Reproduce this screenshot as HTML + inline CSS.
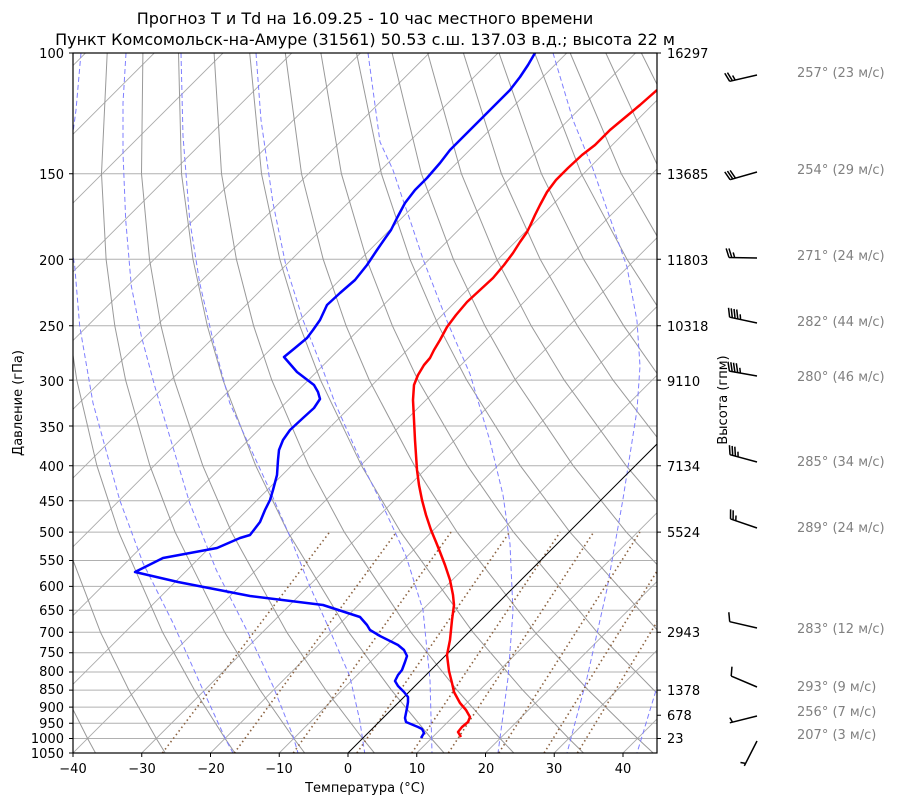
<!DOCTYPE html>
<html><head><meta charset="utf-8"><style>
body{margin:0;background:#fff;}
svg text{font-family:"DejaVu Sans","Liberation Sans",sans-serif;}
</style></head><body>
<svg width="900" height="806" xmlns="http://www.w3.org/2000/svg">
<defs><clipPath id="c"><rect x="73" y="53" width="584" height="700"/></clipPath></defs>
<rect width="900" height="806" fill="#fff"/>
<g clip-path="url(#c)" fill="none">
<g stroke="#b0b0b0" stroke-width="1">
<line x1="73" y1="173.7" x2="657" y2="173.7"/><line x1="73" y1="259.3" x2="657" y2="259.3"/>
<line x1="73" y1="325.8" x2="657" y2="325.8"/><line x1="73" y1="380.1" x2="657" y2="380.1"/>
<line x1="73" y1="426" x2="657" y2="426"/><line x1="73" y1="465.7" x2="657" y2="465.7"/>
<line x1="73" y1="500.8" x2="657" y2="500.8"/><line x1="73" y1="532.1" x2="657" y2="532.1"/>
<line x1="73" y1="560.5" x2="657" y2="560.5"/><line x1="73" y1="586.4" x2="657" y2="586.4"/>
<line x1="73" y1="610.2" x2="657" y2="610.2"/><line x1="73" y1="632.3" x2="657" y2="632.3"/>
<line x1="73" y1="652.8" x2="657" y2="652.8"/><line x1="73" y1="672" x2="657" y2="672"/>
<line x1="73" y1="690.1" x2="657" y2="690.1"/><line x1="73" y1="707.1" x2="657" y2="707.1"/>
<line x1="73" y1="723.2" x2="657" y2="723.2"/><line x1="73" y1="738.5" x2="657" y2="738.5"/>
</g>
<g stroke="#aaa" stroke-width="0.9">
<line x1="-614.5" y1="753" x2="85.5" y2="53"/><line x1="-545.75" y1="753" x2="154.25" y2="53"/>
<line x1="-477" y1="753" x2="223" y2="53"/><line x1="-408.25" y1="753" x2="291.75" y2="53"/>
<line x1="-339.5" y1="753" x2="360.5" y2="53"/><line x1="-270.75" y1="753" x2="429.25" y2="53"/>
<line x1="-202" y1="753" x2="498" y2="53"/><line x1="-133.25" y1="753" x2="566.75" y2="53"/>
<line x1="-64.5" y1="753" x2="635.5" y2="53"/><line x1="4.25" y1="753" x2="704.25" y2="53"/>
<line x1="73" y1="753" x2="773" y2="53"/><line x1="141.75" y1="753" x2="841.75" y2="53"/>
<line x1="210.5" y1="753" x2="910.5" y2="53"/><line x1="279.25" y1="753" x2="979.25" y2="53"/>
<line x1="416.75" y1="753" x2="1116.75" y2="53"/><line x1="485.5" y1="753" x2="1185.5" y2="53"/>
<line x1="554.25" y1="753" x2="1254.25" y2="53"/><line x1="623" y1="753" x2="1323" y2="53"/>
</g>
<g stroke="#999" stroke-width="1">
<polyline points="95.5,753 87.6,738.5 63.2,690.1 38.4,632.3 5.9,532.1 -8.9,465.7 -20.7,380.1 -24,325.8 -24.1,259.3 -18.4,173.7 0.4,53"/>
<polyline points="165.2,753 156.3,738.5 128.9,690.1 100.5,632.3 62.3,532.1 44,465.7 28.1,380.1 22.2,325.8 19.3,259.3 21.6,173.7 36,53"/>
<polyline points="234.9,753 225.1,738.5 194.5,690.1 162.6,632.3 118.7,532.1 96.9,465.7 76.8,380.1 68.5,325.8 62.7,259.3 61.6,173.7 71.6,53"/>
<polyline points="304.7,753 293.8,738.5 260.1,690.1 224.7,632.3 175.1,532.1 149.9,465.7 125.6,380.1 114.8,325.8 106.1,259.3 101.5,173.7 107.2,53"/>
<polyline points="374.4,753 362.6,738.5 325.8,690.1 286.8,632.3 231.5,532.1 202.8,465.7 174.3,380.1 161,325.8 149.5,259.3 141.5,173.7 142.9,53"/>
<polyline points="444.1,753 431.3,738.5 391.4,690.1 348.8,632.3 287.9,532.1 255.7,465.7 223,380.1 207.3,325.8 193,259.3 181.5,173.7 178.5,53"/>
<polyline points="513.8,753 500.1,738.5 457,690.1 410.9,632.3 344.3,532.1 308.6,465.7 271.8,380.1 253.6,325.8 236.4,259.3 221.5,173.7 214.1,53"/>
<polyline points="583.5,753 568.8,738.5 522.7,690.1 473,632.3 400.7,532.1 361.5,465.7 320.5,380.1 299.8,325.8 279.8,259.3 261.5,173.7 249.7,53"/>
<polyline points="653.2,753 637.6,738.5 588.3,690.1 535.1,632.3 457.1,532.1 414.5,465.7 369.3,380.1 346.1,325.8 323.2,259.3 301.5,173.7 285.3,53"/>
<polyline points="722.9,753 706.3,738.5 653.9,690.1 597.2,632.3 513.5,532.1 467.4,465.7 418,380.1 392.4,325.8 366.6,259.3 341.4,173.7 320.9,53"/>
<polyline points="792.7,753 775.1,738.5 719.6,690.1 659.3,632.3 569.9,532.1 520.3,465.7 466.7,380.1 438.6,325.8 410,259.3 381.4,173.7 356.5,53"/>
<polyline points="862.4,753 843.8,738.5 785.2,690.1 721.4,632.3 626.3,532.1 573.2,465.7 515.5,380.1 484.9,325.8 453.4,259.3 421.4,173.7 392.1,53"/>
<polyline points="932,753 912.6,738.5 850.8,690.1 783.5,632.3 682.7,532.1 626.1,465.7 564.2,380.1 531.2,325.8 496.8,259.3 461.4,173.7 427.7,53"/>
<polyline points="1002,753 981,738.5 916.4,690.1 845.6,632.3 739.1,532.1 679,465.7 613,380.1 577.4,325.8 540.2,259.3 501.4,173.7 463.4,53"/>
<polyline points="1071,753 1050,738.5 982,690.1 907.7,632.3 795.5,532.1 732,465.7 661.7,380.1 623.7,325.8 583.6,259.3 541.4,173.7 499,53"/>
<polyline points="1048,690.1 969.7,632.3 851.9,532.1 784.9,465.7 710.4,380.1 670,325.8 627,259.3 581.3,173.7 534.6,53"/>
<polyline points="1031.8,632.3 908.3,532.1 837.8,465.7 759.2,380.1 716.2,325.8 670.4,259.3 621.3,173.7 570.2,53"/>
<polyline points="964.7,532.1 890.7,465.7 807.9,380.1 762.5,325.8 713.8,259.3 661.3,173.7 605.8,53"/>
<polyline points="1021,532.1 943.6,465.7 856.6,380.1 808.8,325.8 757.2,259.3 701.3,173.7 641.4,53"/>
</g>
<g stroke="#7f7fff" stroke-width="1" stroke-dasharray="5,3">
<polyline points="81,53 76,110 72,140"/>
<polyline points="72,250 74.7,266 79.7,326 93,403 119.7,500 143,563 173,623 203,690 226,740 233,753"/>
<polyline points="126,53 123,103 123,153 125.7,220 131.3,286 141.3,336 154.7,386 159.7,403 189.7,503 216.3,570 249.7,636 273,686 293,736 298,753"/>
<polyline points="181,53 183,136 189.7,220 199.7,283 213,340 229.7,403 269.7,490 289.7,536 309.7,586 329.7,630 349.7,676 359.7,720 364.7,753"/>
<polyline points="256,53 261,120 273,203 286,266 303,320 323,370 335,403 363,466 383,506 406,556 423,610 430,680 432,753"/>
<polyline points="368,53 380,142 393,170 403,200 410,220 423,259 447,321 470,374 490,441 503,495 510,544 513,611 508,678 498,753"/>
<polyline points="553,53 573,120 593,169 610,218 627,267 637,321 640,366 637,410 623,499 607,589 587,678 567,753"/>
<polyline points="664,660 657,687 637,753"/>
</g>
<g stroke="#8b6240" stroke-width="1.6" stroke-dasharray="1.5,3">
<line x1="162.4" y1="753" x2="329.6" y2="532.1"/>
<line x1="234.3" y1="753" x2="396.4" y2="532.1"/>
<line x1="293.3" y1="753" x2="451" y2="532.1"/>
<line x1="356.9" y1="753" x2="509.6" y2="532.1"/>
<line x1="411.8" y1="753" x2="560.1" y2="532.1"/>
<line x1="448.4" y1="753" x2="593.7" y2="532.1"/>
<line x1="498.8" y1="753" x2="639.9" y2="532.1"/>
<line x1="544.1" y1="753" x2="681.3" y2="532.1"/>
<line x1="577.4" y1="753" x2="711.5" y2="532.1"/>
</g>
<line x1="348" y1="753" x2="1048" y2="53" stroke="#000" stroke-width="1"/>
<polyline fill="none" stroke="#ff0000" stroke-width="2.5" stroke-linejoin="round" points="461,737 458,732 462,727 468,722 470,717 466,710 460,703 454,692 452,683 449,671 447,655 450,640 452,620 454,605 453,595 450,580 445,565 440,552 436,542 431,530 426,515 422,500 419,485 417,470 416,455 415,440 414,420 413,400 414,385 418,375 424,365 430,358 434,350 440,340 447,327 456,315 467,302 480,290 493,278 504,265 513,253 520,242 527,232 530,226 535,215 540,205 547,192 556,180 568,168 582,155 595,145 603,137 610,130 622,120 640,105 657,90"/>
<polyline fill="none" stroke="#0000ff" stroke-width="2.5" stroke-linejoin="round" points="421,738 424,733 422,729 418,727 406,722 405,718 407,708 408,702 408,697 404,692 398,686 395,681 398,675 402,670 405,662 407,656 404,650 398,645 380,636 370,630 367,625 360,617 323,605 250,596 178,582 135,572 163,558 217,548 240,538 250,535 260,522 265,510 270,500 273,490 277,475 278,460 279,450 283,440 290,430 303,418 314,408 320,399 318,392 314,385 297,372 284,357 295,348 307,338 313,330 320,320 327,305 340,293 355,280 367,265 377,250 386,237 391,230 397,218 405,203 415,190 427,178 440,163 450,150 465,135 480,120 495,105 510,90 520,77 528,65 535,53"/>
</g>
<rect x="73" y="53" width="584" height="700" fill="none" stroke="#000" stroke-width="1.2"/>
<g stroke="#000" stroke-width="1">
<path d="M69,53H73M69,173.7H73M69,259.3H73M69,325.8H73M69,380.1H73M69,426H73M69,465.7H73M69,500.8H73M69,532.1H73M69,560.5H73M69,586.4H73M69,610.2H73M69,632.3H73M69,652.8H73M69,672H73M69,690.1H73M69,707.1H73M69,723.2H73M69,738.5H73M69,753H73"/>
<path d="M657,53H661M657,173.7H661M657,259.3H661M657,325.8H661M657,380.1H661M657,465.7H661M657,532.1H661M657,632.3H661M657,690.1H661M657,715.2H661M657,738.5H661"/>
<path d="M73,753V757M141.75,753V757M210.5,753V757M279.25,753V757M348,753V757M416.75,753V757M485.5,753V757M554.25,753V757M623,753V757"/>
</g>
<g font-size="13" fill="#000">
<text x="365" y="24" font-size="16" text-anchor="middle">Прогноз T и Td на 16.09.25 - 10 час местного времени</text>
<text x="365" y="45" font-size="16" text-anchor="middle">Пункт Комсомольск-на-Амуре (31561) 50.53 с.ш. 137.03 в.д.; высота 22 м</text>
<text x="365" y="792" text-anchor="middle">Температура (°C)</text>
<text transform="translate(22,403) rotate(-90)" text-anchor="middle">Давление (гПа)</text>
<text transform="translate(727,400) rotate(-90)" text-anchor="middle">Высота (гпм)</text>
</g>
<g font-size="13" fill="#808080">
<text x="797" y="77">257° (23 м/с)</text>
<text x="797" y="174">254° (29 м/с)</text>
<text x="797" y="260">271° (24 м/с)</text>
<text x="797" y="326">282° (44 м/с)</text>
<text x="797" y="381">280° (46 м/с)</text>
<text x="797" y="466">285° (34 м/с)</text>
<text x="797" y="532">289° (24 м/с)</text>
<text x="797" y="633">283° (12 м/с)</text>
<text x="797" y="691">293° (9 м/с)</text>
<text x="797" y="716">256° (7 м/с)</text>
<text x="797" y="739">207° (3 м/с)</text>
</g>
<g font-size="13" fill="#000">
<text x="64" y="58" text-anchor="end">100</text>
<text x="64" y="179" text-anchor="end">150</text>
<text x="64" y="265" text-anchor="end">200</text>
<text x="64" y="331" text-anchor="end">250</text>
<text x="64" y="386" text-anchor="end">300</text>
<text x="64" y="432" text-anchor="end">350</text>
<text x="64" y="471" text-anchor="end">400</text>
<text x="64" y="506" text-anchor="end">450</text>
<text x="64" y="537" text-anchor="end">500</text>
<text x="64" y="565" text-anchor="end">550</text>
<text x="64" y="591" text-anchor="end">600</text>
<text x="64" y="615" text-anchor="end">650</text>
<text x="64" y="637" text-anchor="end">700</text>
<text x="64" y="657" text-anchor="end">750</text>
<text x="64" y="676" text-anchor="end">800</text>
<text x="64" y="694" text-anchor="end">850</text>
<text x="64" y="712" text-anchor="end">900</text>
<text x="64" y="728" text-anchor="end">950</text>
<text x="64" y="743" text-anchor="end">1000</text>
<text x="64" y="758" text-anchor="end">1050</text>
<text x="667" y="58">16297</text>
<text x="667" y="179">13685</text>
<text x="667" y="265">11803</text>
<text x="667" y="331">10318</text>
<text x="667" y="386">9110</text>
<text x="667" y="471">7134</text>
<text x="667" y="537">5524</text>
<text x="667" y="637">2943</text>
<text x="667" y="695">1378</text>
<text x="667" y="720">678</text>
<text x="667" y="743">23</text>
<text x="73" y="773" text-anchor="middle">−40</text>
<text x="142" y="773" text-anchor="middle">−30</text>
<text x="211" y="773" text-anchor="middle">−20</text>
<text x="279" y="773" text-anchor="middle">−10</text>
<text x="348" y="773" text-anchor="middle">0</text>
<text x="417" y="773" text-anchor="middle">10</text>
<text x="486" y="773" text-anchor="middle">20</text>
<text x="554" y="773" text-anchor="middle">30</text>
<text x="623" y="773" text-anchor="middle">40</text>
</g>
<g stroke="#000" stroke-width="1.5" fill="none">
<path d="M757,75L729.7,81.3 M729.7,81.3l-4.95,-8.09 M732.4,80.7l-4.95,-8.09 M735.2,80l-2.59,-4.53"/>
<path d="M757,172L730.1,179.7 M730.1,179.7l-5.36,-7.82 M732.8,178.9l-5.36,-7.82 M735.5,178.2l-5.36,-7.82"/>
<path d="M757,258L729,257.5 M729,257.5l-2.85,-9.05 M731.8,257.5l-2.85,-9.05 M734.6,257.4l-1.4,-5"/>
<path d="M757,323L729.6,317.2 M729.6,317.2l-1.06,-9.42 M732.3,317.8l-1.06,-9.42 M735.1,318.4l-1.06,-9.42 M737.8,318.9l-1.06,-9.42 M740.6,319.5l-0.43,-5.2"/>
<path d="M757,376L729.4,371.1 M729.4,371.1l-1.39,-9.39 M732.2,371.6l-1.39,-9.39 M734.9,372.1l-1.39,-9.39 M737.7,372.6l-1.39,-9.39 M740.4,373l-0.61,-5.19"/>
<path d="M757,462L730,454.7 M730,454.7l-0.57,-9.47 M732.7,455.4l-0.57,-9.47 M735.4,456.2l-0.57,-9.47 M738.1,456.9l-0.15,-5.22"/>
<path d="M757,528L730.5,518.9 M730.5,518.9l0.09,-9.49 M733.1,519.8l0.09,-9.49 M735.8,520.7l0.21,-5.22"/>
<path d="M757,628L729.7,621.7 M729.7,621.7l-0.89,-9.45"/>
<path d="M757,687L731.2,676.1 M731.2,676.1l0.76,-9.46"/>
<path d="M757,716L729.8,722.8 M732.5,722.1l-2.67,-4.49"/>
<path d="M757,741L744.3,765.9 M745.6,763.4l-5.14,-0.93"/>
</g>
</svg>
</body></html>
